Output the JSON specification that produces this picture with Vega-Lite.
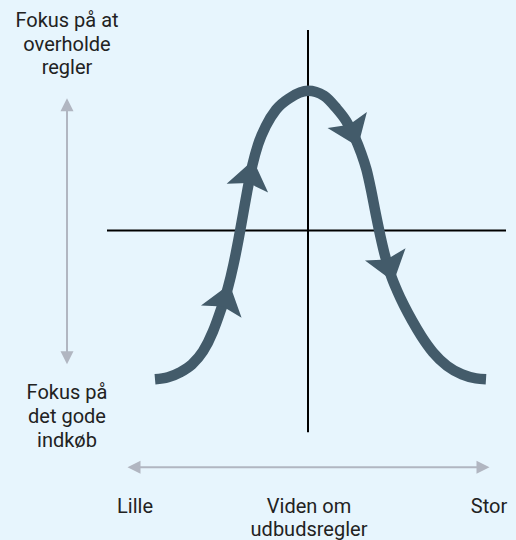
{
  "$schema": "https://vega.github.io/schema/vega-lite/v6.json",
  "width": 516,
  "height": 540,
  "autosize": {"type": "fit", "contains": "padding"},
  "padding": 0,
  "background": "#e7f5fd",
  "config": {"view": {"stroke": null}},
  "datasets": {
    "curve": [
      {"i": 1, "x": 155, "y": 380}, {"i": 2, "x": 168, "y": 378}, {"i": 3, "x": 180, "y": 373},
      {"i": 4, "x": 192, "y": 365}, {"i": 5, "x": 203, "y": 352}, {"i": 6, "x": 213, "y": 332},
      {"i": 7, "x": 221, "y": 310}, {"i": 8, "x": 228, "y": 288}, {"i": 9, "x": 233.5, "y": 265},
      {"i": 10, "x": 238.5, "y": 240}, {"i": 11, "x": 243, "y": 215}, {"i": 12, "x": 247.5, "y": 190},
      {"i": 13, "x": 252.5, "y": 165}, {"i": 14, "x": 258, "y": 145}, {"i": 15, "x": 266, "y": 126},
      {"i": 16, "x": 276, "y": 110}, {"i": 17, "x": 290, "y": 98}, {"i": 18, "x": 308, "y": 91},
      {"i": 19, "x": 324, "y": 96}, {"i": 20, "x": 336, "y": 108}, {"i": 21, "x": 346, "y": 121},
      {"i": 22, "x": 355, "y": 138}, {"i": 23, "x": 361, "y": 153}, {"i": 24, "x": 366.5, "y": 170},
      {"i": 25, "x": 371, "y": 190}, {"i": 26, "x": 375.5, "y": 213}, {"i": 27, "x": 380.5, "y": 237},
      {"i": 28, "x": 385.5, "y": 258}, {"i": 29, "x": 391, "y": 276}, {"i": 30, "x": 397, "y": 291},
      {"i": 31, "x": 404, "y": 306}, {"i": 32, "x": 412, "y": 321}, {"i": 33, "x": 421.5, "y": 337},
      {"i": 34, "x": 433, "y": 353}, {"i": 35, "x": 447, "y": 366.5}, {"i": 36, "x": 462, "y": 375},
      {"i": 37, "x": 476, "y": 379}, {"i": 38, "x": 486, "y": 380}
    ],
    "labels": [
      {"t": "Fokus på at", "x": 67, "y": 27.5},
      {"t": "overholde", "x": 67, "y": 51},
      {"t": "regler", "x": 67, "y": 74.5},
      {"t": "Fokus på", "x": 67, "y": 400},
      {"t": "det gode", "x": 67, "y": 424},
      {"t": "indkøb", "x": 67, "y": 448},
      {"t": "Lille", "x": 135, "y": 514},
      {"t": "Viden om", "x": 309, "y": 514},
      {"t": "udbudsregler", "x": 309, "y": 537},
      {"t": "Stor", "x": 489, "y": 514}
    ]
  },
  "encoding": {
    "x": {"field": "x", "type": "quantitative", "scale": {"domain": [0, 516], "nice": false, "zero": false}, "axis": null},
    "y": {"field": "y", "type": "quantitative", "scale": {"domain": [0, 540], "nice": false, "zero": false, "reverse": true}, "axis": null}
  },
  "layer": [
    {
      "data": {"values": [
        {"x": 308, "y": 30, "x2": 308, "y2": 433},
        {"x": 107, "y": 231, "x2": 506, "y2": 231}
      ]},
      "mark": {"type": "rule", "color": "#000000", "strokeWidth": 2},
      "encoding": {"x2": {"field": "x2"}, "y2": {"field": "y2"}}
    },
    {
      "data": {"values": [
        {"x": 67, "y": 108, "x2": 67, "y2": 356},
        {"x": 136, "y": 468, "x2": 481, "y2": 468}
      ]},
      "mark": {"type": "rule", "color": "#b1b6c1", "strokeWidth": 2},
      "encoding": {"x2": {"field": "x2"}, "y2": {"field": "y2"}}
    },
    {
      "data": {"values": [{"x": 67, "y": 105}]},
      "mark": {"type": "point", "shape": "M0,-1L1,1L-1,1Z", "size": 169, "filled": true, "opacity": 1, "color": "#b1b6c1", "angle": 0}
    },
    {
      "data": {"values": [{"x": 67, "y": 358.5}]},
      "mark": {"type": "point", "shape": "M0,-1L1,1L-1,1Z", "size": 169, "filled": true, "opacity": 1, "color": "#b1b6c1", "angle": 180}
    },
    {
      "data": {"values": [{"x": 134, "y": 468}]},
      "mark": {"type": "point", "shape": "M0,-1L1,1L-1,1Z", "size": 169, "filled": true, "opacity": 1, "color": "#b1b6c1", "angle": 270}
    },
    {
      "data": {"values": [{"x": 483, "y": 468}]},
      "mark": {"type": "point", "shape": "M0,-1L1,1L-1,1Z", "size": 169, "filled": true, "opacity": 1, "color": "#b1b6c1", "angle": 90}
    },
    {
      "data": {"name": "curve"},
      "mark": {"type": "line", "color": "#435b6a", "strokeWidth": 10.5, "strokeCap": "butt", "strokeJoin": "round", "interpolate": "monotone"},
      "encoding": {"order": {"field": "i", "type": "quantitative"}}
    },
    {
      "data": {"values": [{"x": 225, "y": 300}]},
      "mark": {"type": "point", "shape": "M0,-0.75L1,0.6L0,0.35L-1,0.6Z", "size": 1800, "filled": true, "opacity": 1, "color": "#435b6a", "angle": 17}
    },
    {
      "data": {"values": [{"x": 250, "y": 176}]},
      "mark": {"type": "point", "shape": "M0,-0.75L1,0.6L0,0.35L-1,0.6Z", "size": 1800, "filled": true, "opacity": 1, "color": "#435b6a", "angle": 12}
    },
    {
      "data": {"values": [{"x": 352, "y": 132}]},
      "mark": {"type": "point", "shape": "M0,-0.75L1,0.6L0,0.35L-1,0.6Z", "size": 1800, "filled": true, "opacity": 1, "color": "#435b6a", "angle": 158}
    },
    {
      "data": {"values": [{"x": 389, "y": 267}]},
      "mark": {"type": "point", "shape": "M0,-0.75L1,0.6L0,0.35L-1,0.6Z", "size": 1800, "filled": true, "opacity": 1, "color": "#435b6a", "angle": 163}
    },
    {
      "data": {"name": "labels"},
      "mark": {"type": "text", "font": "Roboto", "fontSize": 20, "color": "#222222", "align": "center", "baseline": "alphabetic"},
      "encoding": {"text": {"field": "t"}}
    }
  ]
}
